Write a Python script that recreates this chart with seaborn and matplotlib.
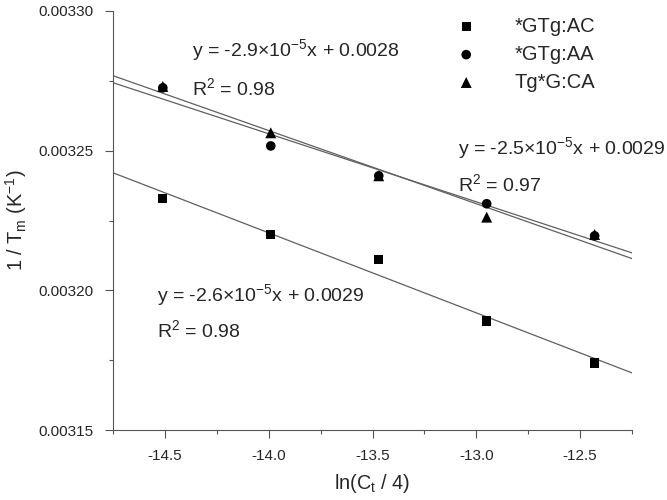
import numpy as np
import pandas as pd
import matplotlib
matplotlib.use("Agg")
import matplotlib.pyplot as plt
import seaborn as sns
from matplotlib.ticker import MultipleLocator, FormatStrFormatter

sns.set_style("ticks")
plt.rcParams['font.family'] = ['Liberation Sans', 'DejaVu Sans']
plt.rcParams['mathtext.default'] = 'regular'

x_vals = [-14.51, -13.99, -13.47, -12.95, -12.43]
gtg_ac = [0.003233, 0.003220, 0.003211, 0.003189, 0.003174]
gtg_aa = [0.0032725, 0.0032517, 0.003241, 0.003231, 0.0032195]
tgg_ca = [0.003273, 0.0032564, 0.003241, 0.0032262, 0.00322]
series_names = ['*GTg:AC', '*GTg:AA', 'Tg*G:CA']
markers = ['s', 'o', '^']
marker_sizes = [44, 48, 62]

df = pd.DataFrame({
    'x': x_vals * 3,
    'y': gtg_ac + gtg_aa + tgg_ca,
    'series': [n for n in series_names for _ in x_vals],
})

fig = plt.figure(figsize=(6.67, 5.0), dpi=100)
ax = fig.add_axes([113/667, 70/500, (632-113)/667, (430-11)/500])
ax.set_xlim(-14.75, -12.25)
ax.set_ylim(0.00315, 0.00330)

for name, m, ms in zip(series_names, markers, marker_sizes):
    sub = df[df['series'] == name]
    ax.set_xlim(-14.75, -12.25)
    sns.regplot(data=sub, x='x', y='y', ax=ax, ci=None, truncate=False,
                marker=m, label=name,
                scatter_kws=dict(color='black', alpha=1, s=ms,
                                 edgecolors='none', zorder=3),
                line_kws=dict(color='#606060', lw=0.9, zorder=2))

ax.set_xlim(-14.75, -12.25)
ax.set_ylim(0.00315, 0.00330)

sns.despine(ax=ax)
for s in ['left', 'bottom']:
    ax.spines[s].set_color('#555555')
    ax.spines[s].set_linewidth(0.8)

ax.xaxis.set_major_locator(MultipleLocator(0.5))
ax.xaxis.set_minor_locator(MultipleLocator(0.25))
ax.yaxis.set_major_locator(MultipleLocator(0.00005))
ax.yaxis.set_minor_locator(MultipleLocator(0.000025))
ax.yaxis.set_major_formatter(FormatStrFormatter('%.5f'))
ax.xaxis.set_major_formatter(FormatStrFormatter('%.1f'))
ax.tick_params(which='major', direction='out', length=6, width=0.8,
               color='#555555', labelsize=11, pad=8)
ax.tick_params(which='minor', direction='out', length=3, width=0.8,
               color='#555555')

ax.set_xlabel('ln(C$_t$ / 4)', fontsize=14.3, labelpad=6)
ax.set_ylabel('1 / T$_m$ (K$^{-1}$)', fontsize=14.3, labelpad=7)

fs = 14
ax.text(-14.37, 0.003286, 'y = -2.9×10$^{-5}$x + 0.0028', fontsize=fs, va='center')
ax.text(-14.37, 0.0032724, 'R$^2$ = 0.98', fontsize=fs, va='center')
ax.text(-13.087, 0.003251, 'y = -2.5×10$^{-5}$x + 0.0029', fontsize=fs, va='center')
ax.text(-13.087, 0.003238, 'R$^2$ = 0.97', fontsize=fs, va='center')
ax.text(-14.54, 0.0031983, 'y = -2.6×10$^{-5}$x + 0.0029', fontsize=fs, va='center')
ax.text(-14.54, 0.0031858, 'R$^2$ = 0.98', fontsize=fs, va='center')

leg = ax.legend(loc='upper left', bbox_to_anchor=(438/667, 1 - 9/500),
                bbox_transform=fig.transFigure, frameon=False,
                fontsize=14.5, handletextpad=1.4, labelspacing=0.44,
                borderaxespad=0.0, handlelength=2.0)

fig.savefig('out.png', dpi=100)
